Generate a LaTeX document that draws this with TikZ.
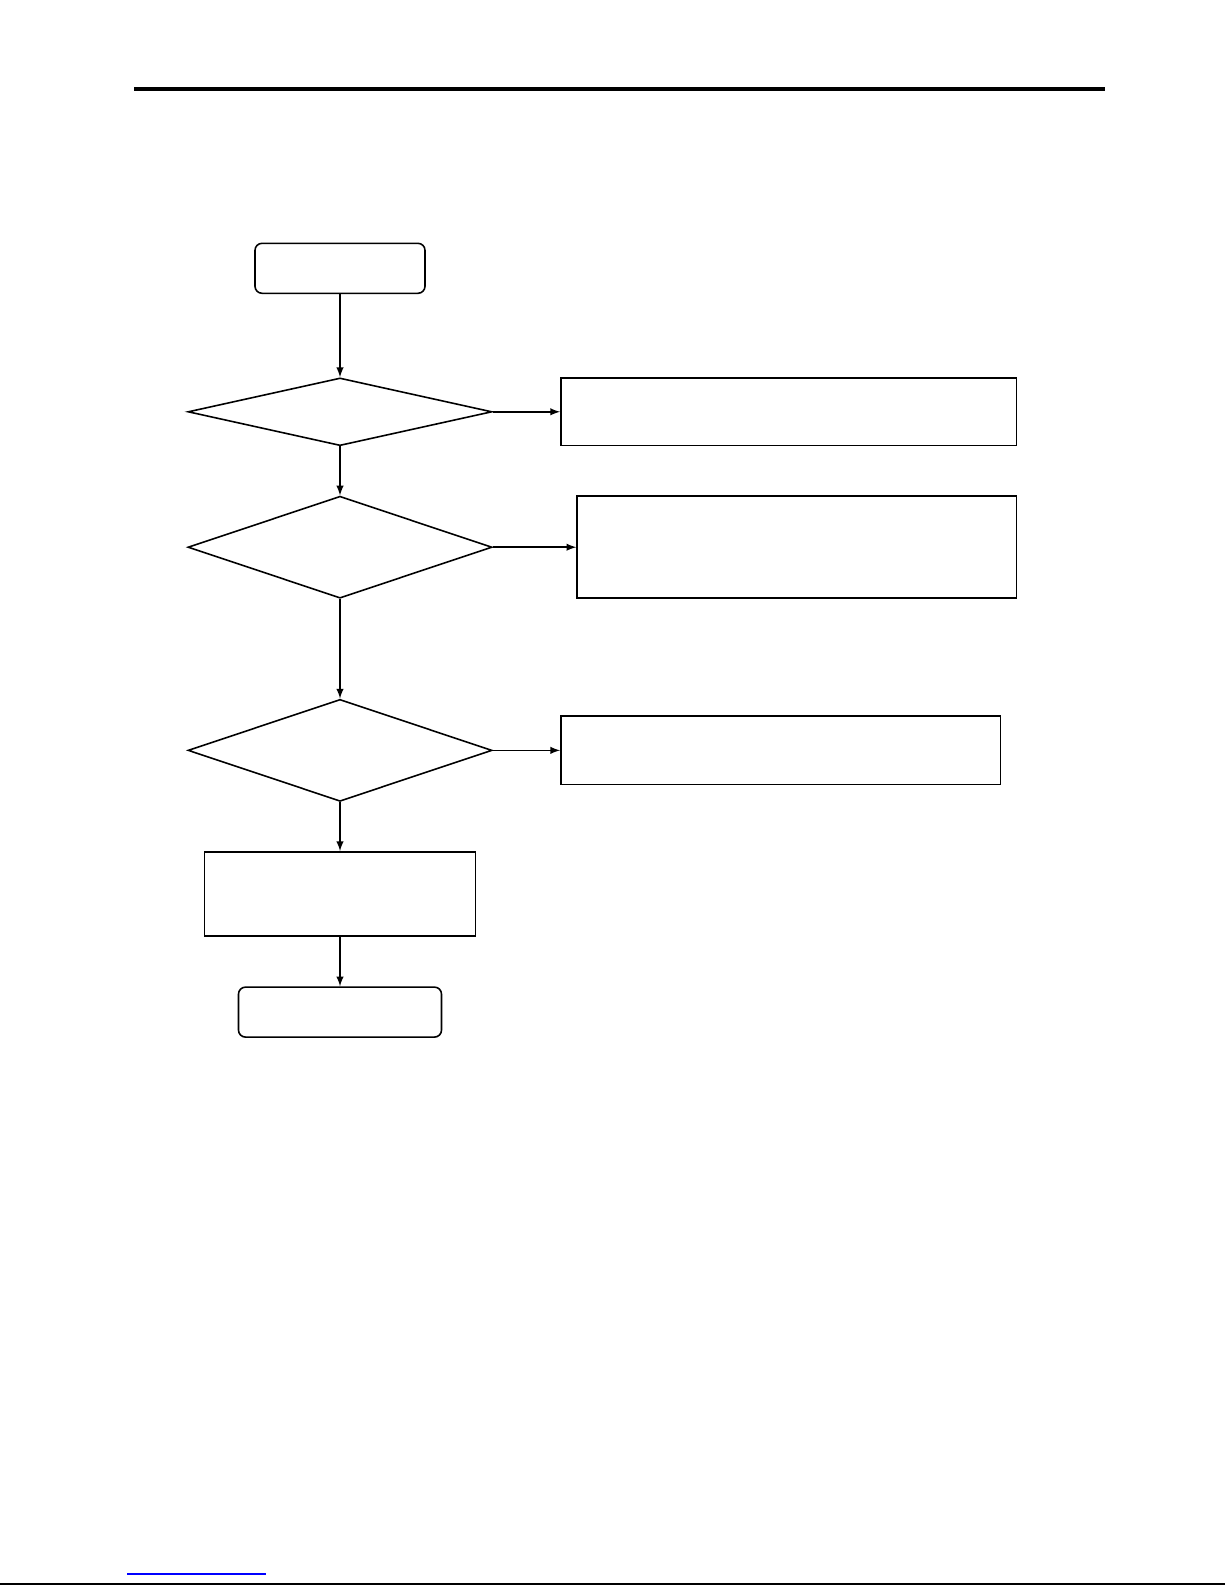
\documentclass[tikz,border=0pt]{standalone}
\usepackage{tikz}
\usetikzlibrary{shapes.geometric, arrows}
\tikzstyle{startstop} = [rectangle, rounded corners=4pt, minimum width=3.4cm, minimum height=1cm, inner sep=0pt, draw=black, line width=0.9pt]
\tikzstyle{decision} = [diamond, minimum width=6.08cm, minimum height=1.354cm, inner sep=0pt, draw=black, line width=0.9pt]
\tikzstyle{decisionbig} = [diamond, minimum width=6.08cm, minimum height=2.04cm, inner sep=0pt, draw=black, line width=0.9pt]
\tikzstyle{process} = [rectangle, minimum width=8.79cm, minimum height=1.354cm, inner sep=0pt, draw=black, line width=0.9pt]
\tikzstyle{arrow} = [line width=0.9pt,->,>=latex]

\begin{document}
\begin{tikzpicture}[node distance=2.87cm]
\useasboundingbox (0,0) rectangle (24.5,-31.7);
% page rules
\draw [line width=2.27pt] (2.68,-1.78) -- (22.1,-1.78);
\draw [line width=1.1pt] (0,-31.68) -- (24.5,-31.68);
\draw [blue, line width=0.6pt] (2.54,-31.48) -- (5.32,-31.48);
% flow chart
\node (start) [startstop] at (6.8,-5.366) {};
\node (dec1) [decision, below of=start] {};
\node (dec2) [decisionbig, below of=dec1, yshift=0.162cm] {};
\node (dec3) [decisionbig, below of=dec2, yshift=-1.193cm] {};
\node (pro4) [process, below of=dec3, minimum width=5.42cm, minimum height=1.68cm] {};
\node (stop) [startstop, below of=pro4, yshift=0.505cm, minimum width=4.06cm] {};
\node (pro1) [process, right of=dec1, xshift=6.104cm, minimum width=9.115cm] {};
\node (pro2) [process, right of=dec2, xshift=6.266cm, minimum height=2.04cm] {};
\node (pro3) [process, right of=dec3, xshift=5.942cm, minimum height=1.374cm] {};
\draw [arrow] (start) -- (dec1);
\draw [arrow] (dec1) -- (dec2);
\draw [arrow] (dec2) -- (dec3);
\draw [arrow] (dec3) -- (pro4);
\draw [arrow] (pro4) -- (stop);
\draw [arrow] (dec1) -- (pro1);
\draw [arrow] (dec2) -- (pro2);
\draw [arrow] (dec3) -- (pro3);
\end{tikzpicture}
\end{document}
